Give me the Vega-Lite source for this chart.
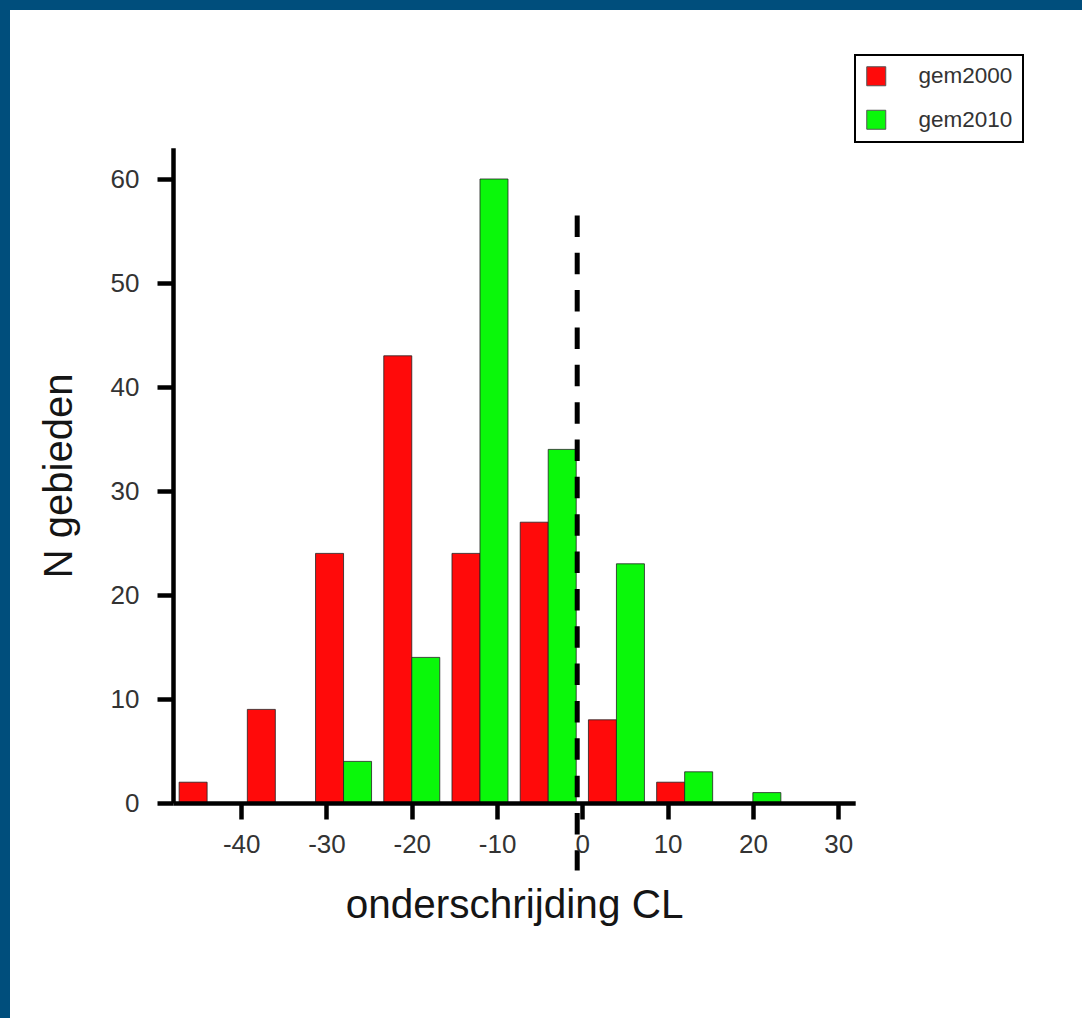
{
  "$schema": "https://vega.github.io/schema/vega-lite/v6.json",
  "width": 1072,
  "height": 1008,
  "autosize": {"type": "none"},
  "padding": {"left": 10, "top": 10, "right": 0, "bottom": 0},
  "background": "#004e7c",
  "config": {
    "view": {"fill": "white", "stroke": null},
    "font": "Liberation Sans"
  },
  "data": {
    "values": [
      {"klasse": -44, "reeks": "gem2000", "n": 2},
      {"klasse": -36, "reeks": "gem2000", "n": 9},
      {"klasse": -28, "reeks": "gem2000", "n": 24},
      {"klasse": -20, "reeks": "gem2000", "n": 43},
      {"klasse": -12, "reeks": "gem2000", "n": 24},
      {"klasse": -4, "reeks": "gem2000", "n": 27},
      {"klasse": 4, "reeks": "gem2000", "n": 8},
      {"klasse": 12, "reeks": "gem2000", "n": 2},
      {"klasse": -28, "reeks": "gem2010", "n": 4},
      {"klasse": -20, "reeks": "gem2010", "n": 14},
      {"klasse": -12, "reeks": "gem2010", "n": 60},
      {"klasse": -4, "reeks": "gem2010", "n": 34},
      {"klasse": 4, "reeks": "gem2010", "n": 23},
      {"klasse": 12, "reeks": "gem2010", "n": 3},
      {"klasse": 20, "reeks": "gem2010", "n": 1}
    ]
  },
  "layer": [
    {
      "transform": [{"filter": "datum.reeks === 'gem2000'"}],
      "mark": {"type": "bar", "width": 28, "xOffset": -14, "stroke": "#222", "strokeWidth": 0.8},
      "encoding": {
        "x": {
          "field": "klasse",
          "type": "quantitative",
          "scale": {"domain": [-48, 32], "range": [163, 845.2], "nice": false, "zero": false, "padding": 0},
          "axis": {
            "values": [-40, -30, -20, -10, 0, 10, 20, 30],
            "labelExpr": "replace(datum.label, '\u2212', '-')",
            "title": "onderschrijding CL",
            "offset": -215,
            "grid": false,
            "zindex": 1,
            "domainColor": "black",
            "domainWidth": 4.5,
            "tickColor": "black",
            "tickWidth": 4.5,
            "tickSize": 16,
            "labelFontSize": 26,
            "labelColor": "#333",
            "labelPadding": 12,
            "labelFlush": false,
            "labelOverlap": false,
            "titleFontSize": 40.5,
            "titleFontWeight": "normal",
            "titleColor": "#151515",
            "titlePadding": 28
          }
        },
        "y": {
          "field": "n",
          "type": "quantitative",
          "scale": {"domain": [0, 63], "range": [793, 137.8], "nice": false},
          "axis": {
            "values": [0, 10, 20, 30, 40, 50, 60],
            "title": "N gebieden",
            "offset": -163,
            "grid": false,
            "zindex": 1,
            "domainColor": "black",
            "domainWidth": 4.5,
            "tickColor": "black",
            "tickWidth": 4.5,
            "tickSize": 16,
            "labelFontSize": 26,
            "labelColor": "#333",
            "labelPadding": 18,
            "labelFlush": false,
            "labelOverlap": false,
            "titleFontSize": 40,
            "titleFontWeight": "normal",
            "titleColor": "#151515",
            "titlePadding": 31
          }
        },
        "color": {
          "field": "reeks",
          "type": "nominal",
          "scale": {"domain": ["gem2000", "gem2010"], "range": ["#ff0a0a", "#0af80a"]},
          "legend": {
            "orient": "none",
            "legendX": 845,
            "legendY": 45,
            "title": null,
            "symbolType": "square",
            "symbolSize": 361,
            "symbolStrokeColor": "#555",
            "symbolStrokeWidth": 1,
            "labelFontSize": 22.5,
            "labelColor": "#333",
            "labelOffset": 31,
            "rowPadding": 19.5,
            "padding": 10,
            "strokeColor": "black",
            "fillColor": "white",
            "encode": {"legend": {"update": {"strokeWidth": {"value": 2}}}}
          }
        }
      }
    },
    {
      "transform": [{"filter": "datum.reeks === 'gem2010'"}],
      "mark": {"type": "bar", "width": 28, "xOffset": 14, "stroke": "#222", "strokeWidth": 0.8},
      "encoding": {
        "x": {"field": "klasse", "type": "quantitative"},
        "y": {"field": "n", "type": "quantitative"},
        "color": {"field": "reeks", "type": "nominal"}
      }
    },
    {
      "data": {"values": [{}]},
      "mark": {"type": "rule", "color": "black", "strokeWidth": 5, "strokeDash": [21.5, 15.85]},
      "encoding": {
        "x": {"datum": -0.6},
        "y": {"datum": 56.5},
        "y2": {"datum": -6.5}
      }
    }
  ]
}
